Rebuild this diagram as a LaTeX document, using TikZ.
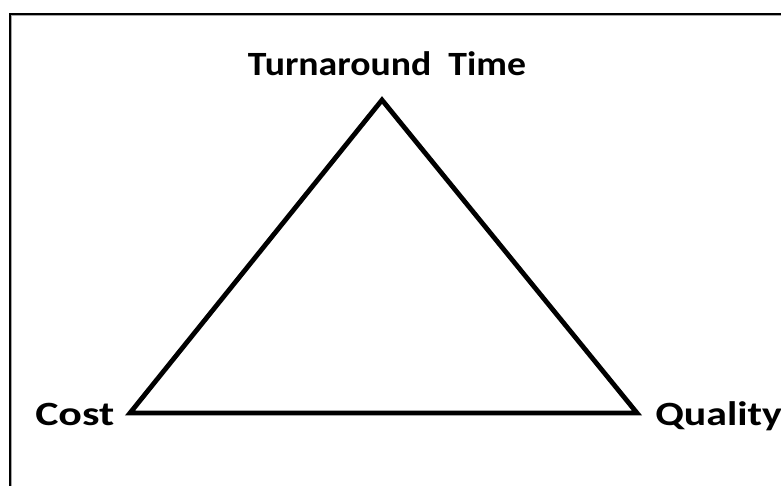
\documentclass[tikz,border=0pt]{standalone}
\usepackage{fontspec}
\setmainfont{Carlito}
\begin{document}
\begin{tikzpicture}[x=1pt,y=-1pt,
  lbl/.style={font=\fontsize{34}{40}\selectfont\bfseries, inner sep=0pt, text=black},
  edge/.style={line width=4.8pt, line join=miter, draw=black}]
\useasboundingbox (0,0) rectangle (781,486);
\fill[white] (0,0) rectangle (781,486);
\draw[line width=2pt, black] (10,486) -- (10,14) -- (781,14);
\draw[line width=1pt, gray!70] (11.5,486) -- (11.5,15.5) -- (781,15.5);
\coordinate (T) at (382,100);
\coordinate (L) at (130,413);
\coordinate (R) at (637,413);
\draw[edge] (T) -- (L) -- (R) -- cycle;
\node[lbl, anchor=base, xscale=1.11] (tt) at (387,76) {Turnaround\ \ Time};
\node[lbl, anchor=base west, xscale=1.29] (cost) at (35,425) {Cost};
\node[lbl, anchor=base west, xscale=1.23] (qual) at (655,425) {Quality};
\end{tikzpicture}
\end{document}
